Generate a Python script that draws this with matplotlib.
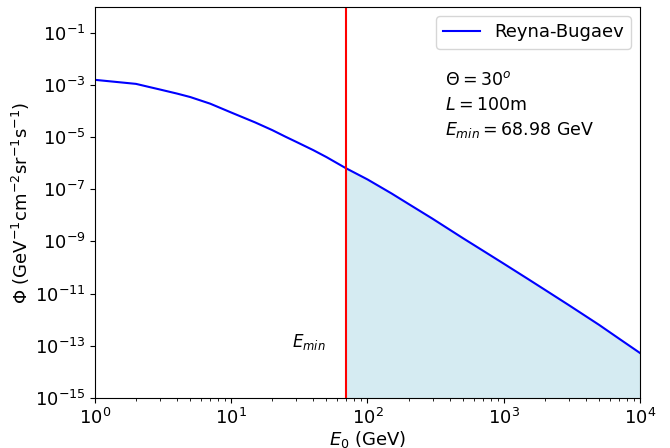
import matplotlib
matplotlib.use("Agg")
import matplotlib.pyplot as plt
import numpy as np
from matplotlib.ticker import NullLocator

# Data
energy = [1, 2, 2.5, 3, 4, 5, 7, 10, 15, 20, 25, 30, 40, 50, 68.98, 100, 150, 200,
          300, 500, 700, 1000, 1500, 2000, 3000, 5000, 7000, 10000]
flux = [1.60e-3, 1.12e-3, 8.5e-4, 6.8e-4, 4.75e-4, 3.5e-4, 1.95e-4, 8.9e-5, 3.7e-5,
        1.88e-5, 1.05e-5, 6.65e-6, 3.2e-6, 1.73e-6, 6.6e-7, 2.4e-7, 6.97e-8, 2.75e-8,
        7.46e-9, 1.35e-9, 4.5e-10, 1.4e-10, 3.66e-11, 1.4e-11, 3.6e-12, 6.3e-13,
        1.87e-13, 5.2e-14]
e_min = 68.98
y_ticks = [1e-15, 1e-13, 1e-11, 1e-9, 1e-7, 1e-5, 1e-3, 1e-1]
info_lines = [r"$\Theta = 30^o$", r"$L = 100$m", r"$E_{min} = 68.98$ GeV"]

fig = plt.figure(figsize=(6.7, 4.48), dpi=100)
ax = fig.add_axes([0.1418, 0.1123, 0.8134, 0.872])

ax.plot(energy, flux, color="blue", lw=1.5, label="Reyna-Bugaev")
ax.axvline(e_min, color="red", lw=1.5)

e = np.array(energy)
f = np.array(flux)
mask = e >= e_min
ax.fill_between(e[mask], 1e-15, f[mask], color="lightblue", alpha=0.5, lw=0)

ax.set_xscale("log")
ax.set_yscale("log")
ax.set_xlim(1, 1e4)
ax.set_ylim(1e-15, 1e0)
ax.set_yticks(y_ticks)
ax.yaxis.set_minor_locator(NullLocator())
ax.tick_params(labelsize=13)

ax.set_xlabel(r"$E_0$ (GeV)", fontsize=13, labelpad=1)
ax.set_ylabel(r"$\Phi$ (GeV$^{-1}$cm$^{-2}$sr$^{-1}$s$^{-1}$)", fontsize=13, labelpad=2)

ax.legend(loc="upper right", fontsize=13)

ys = [0.813, 0.748, 0.686]
for txt, yy in zip(info_lines, ys):
    ax.text(0.642, yy, txt, transform=ax.transAxes, fontsize=12.5, va="center", ha="left")

ax.text(28, 1.4e-13, r"$E_{min}$", fontsize=12, va="center", ha="left")

fig.savefig("out.png", dpi=100)
